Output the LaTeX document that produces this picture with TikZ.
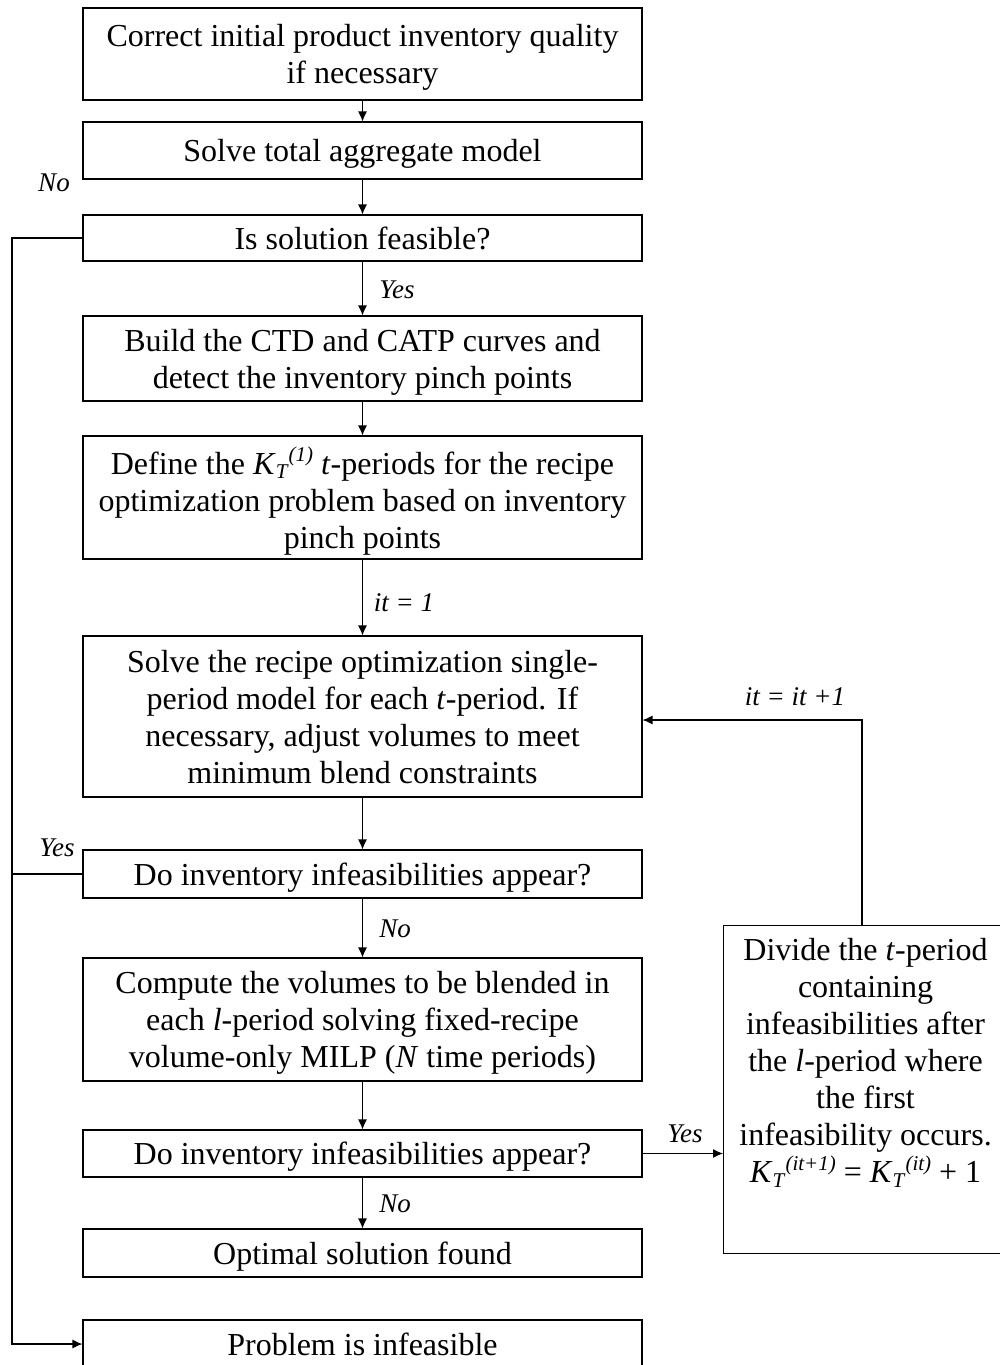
\documentclass[tikz,border=0pt]{standalone}
\usepackage{amsmath}
\usepackage{fontspec}
\setmainfont{Liberation Serif}
\usetikzlibrary{arrows.meta}
% K with subscript T followed by a superscript, set one after the other
\newcommand{\KTsym}[1]{\textit{K}\raisebox{-0.32ex}{\fontsize{21}{21}\selectfont\textit{T}}\raisebox{0.85ex}{\fontsize{21}{21}\selectfont\textit{#1}}}
\begin{document}
\begin{tikzpicture}[x=1pt,y=-1pt,
  box/.style={draw, line width=1.1pt, minimum width=559pt, align=center, inner sep=0pt,
    text depth=0pt, font=\fontsize{32}{37}\selectfont},
  lab/.style={font=\fontsize{27}{30}\selectfont\itshape, inner sep=0pt},
  arr/.style={line width=1.1pt, -{Latex[length=10pt,width=9pt]}},
  ln/.style={line width=1.1pt}]
\useasboundingbox (0,0) rectangle (1000,1365);
% main column of steps
\node[box, minimum height=92pt] (b1) at (362.5,54) {Correct initial product inventory quality\\if necessary};
\node[box, minimum height=57pt] (b2) at (362.5,150.5) {Solve total aggregate model};
\node[box, minimum height=46pt] (b3) at (362.5,238) {Is solution feasible?};
\node[box, minimum height=85pt] (b4) at (362.5,358.5) {Build the CTD and CATP curves and\\detect the inventory pinch points};
\node[box, minimum height=123pt] (b5) at (362.5,497.5) {Define the \KTsym{(1)} \textit{t}-periods for the recipe\\optimization problem based on inventory\\pinch points};
\node[box, minimum height=161pt] (b6) at (362.5,716.5) {Solve the recipe optimization single-\\period model for each \textit{t}-period. If\\necessary, adjust volumes to meet\\minimum blend constraints};
\node[box, minimum height=48pt] (b7) at (362.5,874) {Do inventory infeasibilities appear?};
\node[box, minimum height=123pt] (b8) at (362.5,1019.5) {Compute the volumes to be blended in\\each \textit{l}-period solving fixed-recipe\\volume-only MILP (\textit{N} time periods)};
\node[box, minimum height=47pt] (b9) at (362.5,1153.5) {Do inventory infeasibilities appear?};
\node[box, minimum height=48pt] (b10) at (362.5,1253) {Optimal solution found};
\node[box, minimum height=48pt] (b11) at (362.5,1344) {Problem is infeasible};
% side step: split the offending period
\node[box, minimum width=284pt, minimum height=328pt, anchor=north west] (rb) at (723,925) {Divide the \textit{t}-period\\containing\\infeasibilities after\\the \textit{l}-period where\\the first\\infeasibility occurs.\\\KTsym{(it+1)} = \KTsym{(it)} + 1\\[21pt]};
% forward arrows
\draw[arr] (b1) -- (b2);
\draw[arr] (b2) -- (b3);
\draw[arr] (b3) -- (b4);
\draw[arr] (b4) -- (b5);
\draw[arr] (b5) -- (b6);
\draw[arr] (b6) -- (b7);
\draw[arr] (b7) -- (b8);
\draw[arr] (b8) -- (b9);
\draw[arr] (b9) -- (b10);
% infeasible branch on the left
\coordinate (lt) at (12,238);
\draw[arr] (b3.west) -- (lt) |- (b11.west);
\draw[ln] (b7.west) -- (b7.west -| lt);
% iteration loop on the right
\draw[arr] (rb.north -| 862,0) |- (b6.east |- 0,720);
\draw[arr] (b9.east) -- (b9.east -| rb.west);
% labels
\node[lab] at (54,183) {No};
\node[lab] at (397,290) {Yes};
\node[lab] at (404,603) {it = 1};
\node[lab] at (795,697) {it = it +1};
\node[lab] at (57,848) {Yes};
\node[lab] at (395,929) {No};
\node[lab] at (685,1134) {Yes};
\node[lab] at (395,1204) {No};
\end{tikzpicture}
\end{document}
